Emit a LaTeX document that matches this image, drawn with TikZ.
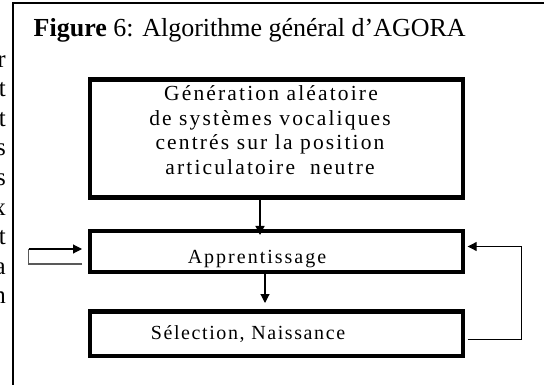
\documentclass[tikz,border=0pt]{standalone}
\usepackage{fontspec}
\setmainfont{Liberation Serif}
\newfontfamily\spacedfont[LetterSpace=10]{Liberation Serif}
\newfontfamily\tightfont[LetterSpace=8]{Liberation Serif}
\usetikzlibrary{arrows.meta}

\begin{document}
\begin{tikzpicture}[x=1pt,y=-1pt,
  stepbox/.style={draw, line width=4.5pt, inner sep=0pt, minimum width=373pt},
  boxtext/.style={inner sep=0pt, anchor=base, font=\spacedfont\fontsize{20}{23}\selectfont},
  bigtext/.style={boxtext, font=\spacedfont\fontsize{21.5}{24.5}\selectfont},
  bodyfrag/.style={inner sep=0pt, anchor=base east, font=\fontsize{25}{29.5}\selectfont},
  flow/.style={line width=1.1pt, -{Triangle[length=9pt,width=9pt]}},
  loopline/.style={line width=1.1pt}]
\useasboundingbox (0,0) rectangle (544,385);

% frame of the figure
\draw[line width=2pt] (12.5,385) -- (12.5,3) -- (544,3);

% ends of the neighbouring text column
\foreach \c [count=\i from 0] in {r,t,t,s,s,x,t,a,n}
  \node[bodyfrag] (frag\i) at (6,67.5+29.5*\i) {\c};

% caption
\node[inner sep=0pt, anchor=base west, font=\fontsize{26}{30}\selectfont] (cap) at (33.5,36.5)
  {\textbf{Figure} 6: Algorithme général d’AGORA};

% the three steps
\node[stepbox, minimum height=118pt]  (b1) at (276.25,138.75) {};
\node[stepbox, minimum height=40.5pt] (b2) at (276.25,251.5) {};
\node[stepbox, minimum height=44.5pt] (b3) at (276.25,333.5) {};

\node[bigtext] (t1a) at (271,101) {Génération aléatoire};
\node[bigtext] (t1b) at (270,125.5) {de systèmes vocaliques};
\node[bigtext] (t1c) at (270,150) {centrés sur la position};
\node[bigtext] (t1d) at (270,174.5) {articulatoire\ \ neutre};
\node[boxtext] (t2) at (257,263) {Apprentissage};
\node[boxtext, font=\tightfont\fontsize{20}{23}\selectfont] (t3) at (248,339.5) {Sélection, Naissance};

% vertical flow
\coordinate (x1) at (260,0);
\coordinate (x2) at (265,0);
\draw[flow, shorten >=-6pt] (b1.south -| x1) -- (b2.north -| x1);
\draw[flow, shorten >=6pt] (b2.south -| x2) -- (b3.north -| x2);

% open loop on the left
\draw[loopline, black!65] ([shift={(-5.5,12.5)}]b2.west) -- ++(-53.5,0) -- ++(0,-15) coordinate (lc);
\draw[flow] (lc) -- ([shift={(-5.5,-2.5)}]b2.west);

% feedback loop on the right
\draw[loopline] ([shift={(2.5,6)}]b3.east) -- ++(54,0) coordinate (rc);
\draw[flow] (rc) |- ([shift={(2.7,-5)}]b2.east);
\end{tikzpicture}
\end{document}
